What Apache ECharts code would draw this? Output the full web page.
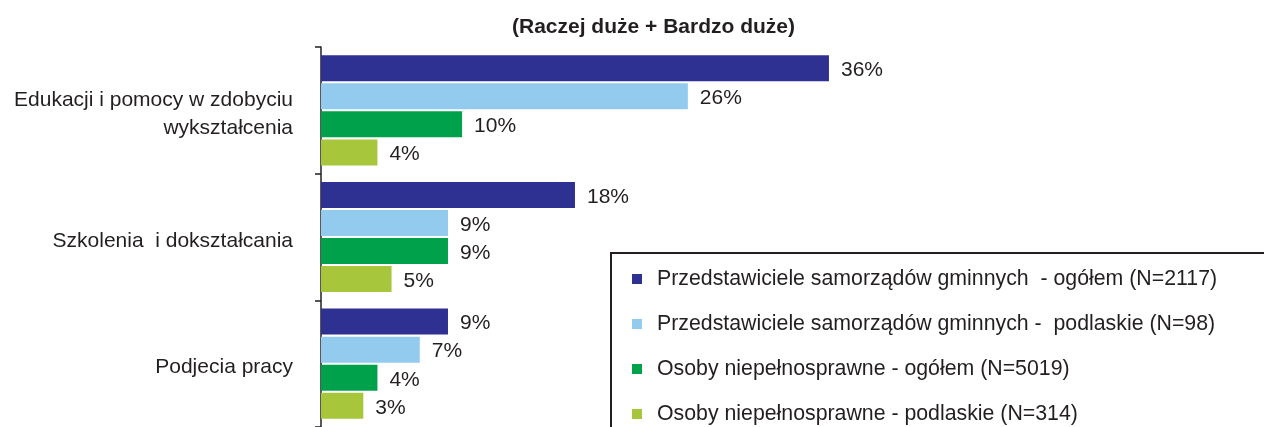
<!DOCTYPE html>
<html>
<head>
<meta charset="utf-8">
<script src="https://cdn.jsdelivr.net/npm/echarts@6/dist/echarts.min.js"></script>
<style>
  html, body { margin: 0; padding: 0; background: #ffffff; }
  #chart { width: 1264px; height: 427px; }
</style>
</head>
<body>
<div id="chart"></div>
<script>
// Categories (top to bottom)
const categories = [
  'Edukacji i pomocy w zdobyciu\nwykształcenia',
  'Szkolenia  i dokształcania',
  'Podjecia pracy'
];

// Series names and values (%)
const seriesNames = [
  'Przedstawiciele samorządów gminnych  - ogółem (N=2117)',
  'Przedstawiciele samorządów gminnych -  podlaskie (N=98)',
  'Osoby niepełnosprawne - ogółem (N=5019)',
  'Osoby niepełnosprawne - podlaskie (N=314)'
];
const samorzadyOgolem = [36, 18, 9];
const samorzadyPodlaskie = [26, 9, 7];
const niepelnosprawneOgolem = [10, 9, 4];
const niepelnosprawnePodlaskie = [4, 5, 3];

const seriesValues = [samorzadyOgolem, samorzadyPodlaskie, niepelnosprawneOgolem, niepelnosprawnePodlaskie];
const colors = ['#2E3192', '#92CBEE', '#00A14B', '#A8C63C'];

const textColor = '#231F20';
const fontFamily = '"Liberation Sans", Arial, Helvetica, sans-serif';

const chart = echarts.init(document.getElementById('chart'), null, { renderer: 'canvas' });

chart.setOption({
  animation: false,
  backgroundColor: '#ffffff',
  textStyle: { fontFamily: fontFamily },
  title: {
    text: '(Raczej duże + Bardzo duże)',
    left: 507,
    top: 12,
    textStyle: { fontSize: 21, fontWeight: 'bold', color: textColor, fontFamily: fontFamily }
  },
  grid: { left: 321, top: 47, width: 846.6, height: 384, containLabel: false },
  xAxis: {
    type: 'value',
    min: 0,
    max: 60,
    show: false
  },
  yAxis: {
    type: 'category',
    inverse: true,
    data: categories,
    axisLine: { show: true, lineStyle: { color: textColor, width: 1.5 } },
    axisTick: { show: true, inside: false, length: 6, lineStyle: { color: textColor, width: 1.5 } },
    axisLabel: {
      margin: 28,
      color: textColor,
      align: 'right',
      formatter: function (value) {
        return '{t|' + value.split('\n').join('}\n{t|') + '}';
      },
      rich: {
        t: {
          fontSize: 21,
          lineHeight: 28,
          padding: [8, 0, 0, 0],
          color: textColor,
          fontFamily: fontFamily
        }
      }
    },
    splitLine: { show: false }
  },
  legend: {
    orient: 'vertical',
    left: 627,
    top: 263,
    height: 300,
    icon: 'rect',
    itemWidth: 10,
    itemHeight: 10,
    itemGap: 23,
    selectedMode: false,
    textStyle: {
      fontSize: 21.3,
      lineHeight: 22,
      color: textColor,
      fontFamily: fontFamily,
      padding: [0, 0, 0, 10]
    },
    data: seriesNames
  },
  graphic: [{
    type: 'rect',
    z: -1,
    shape: { x: 611, y: 253, width: 700, height: 220 },
    style: { fill: '#ffffff', stroke: textColor, lineWidth: 2 }
  }],
  series: seriesNames.map((name, i) => ({
    name: name,
    type: 'bar',
    data: seriesValues[i],
    barWidth: 26,
    barGap: '8%',
    itemStyle: { color: colors[i] },
    label: {
      show: true,
      position: 'right',
      distance: 12,
      offset: [0, 2],
      formatter: '{c}%',
      fontSize: 21,
      color: textColor,
      fontFamily: fontFamily
    }
  }))
});
</script>
</body>
</html>
